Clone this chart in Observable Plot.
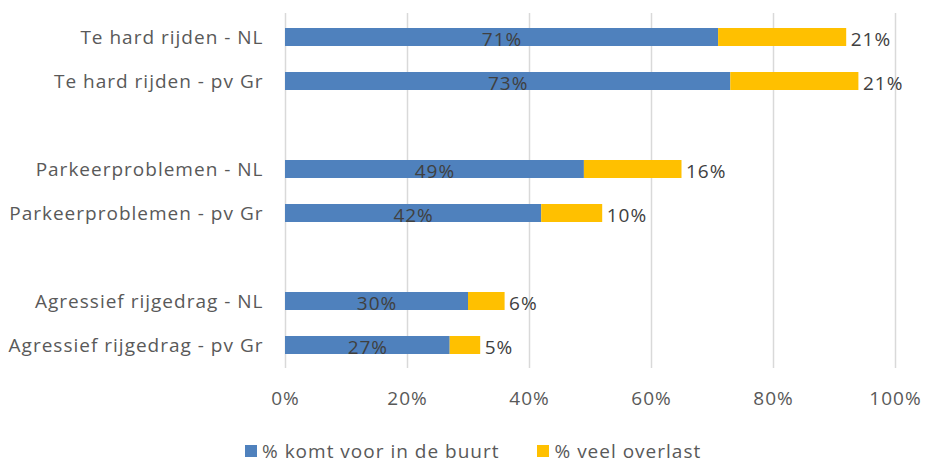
<!DOCTYPE html>
<html>
<head>
<meta charset="utf-8">
<script src="https://cdn.jsdelivr.net/npm/d3@7"></script>
<script src="https://cdn.jsdelivr.net/npm/@observablehq/plot@0.6"></script>
<style>
  html, body { margin: 0; padding: 0; background: #fff; }
  body { width: 925px; height: 463px; overflow: hidden; font-family: "Open Sans", sans-serif; }
  #chart svg { display: block; }
  #legend { display: flex; justify-content: flex-start; gap: 38px; margin-left: 245px; margin-top: 23px; font-size: 19px; line-height: 20px; letter-spacing: 1px; color: #595959; }
  .item { display: flex; align-items: center; gap: 5px; }
  .sw { width: 12px; height: 12px; display: inline-block; }
</style>
</head>
<body>
<div id="chart"></div>
<div id="legend"></div>
<script>
const categories = [
  "Te hard rijden - NL",
  "Te hard rijden - pv Gr",
  "Parkeerproblemen - NL",
  "Parkeerproblemen - pv Gr",
  "Agressief rijgedrag - NL",
  "Agressief rijgedrag - pv Gr"
];
const komtVoor = [71, 73, 49, 42, 30, 27];
const veelOverlast = [21, 21, 16, 10, 6, 5];
const seriesNames = ["% komt voor in de buurt", "% veel overlast"];
const seriesColors = ["#4f81bd", "#ffc000"];
const xTicks = [0, 20, 40, 60, 80, 100];

// y domain with blank spacer rows between the groups
const yDomain = [categories[0], categories[1], "", categories[2], categories[3], " ", categories[4], categories[5]];

const rows = categories.map((c, i) => ({cat: c, komt: komtVoor[i], overlast: veelOverlast[i]}));
const long = [];
rows.forEach(r => {
  long.push({cat: r.cat, series: seriesNames[0], value: r.komt});
  long.push({cat: r.cat, series: seriesNames[1], value: r.overlast});
});

const font = "'Open Sans', sans-serif";

const chart = Plot.plot({
  width: 925,
  height: 418,
  marginLeft: 285,
  marginRight: 30,
  marginTop: 13,
  marginBottom: 50,
  style: {fontFamily: font, background: "#fff", letterSpacing: "1px"},
  x: {domain: [0, 100]},
  y: {domain: yDomain, paddingInner: 0.6, paddingOuter: 0.3},
  color: {domain: seriesNames, range: seriesColors},
  marks: [
    Plot.gridX({ticks: xTicks, stroke: "#d9d9d9", strokeOpacity: 1, strokeWidth: 1.5}),
    Plot.barX(long, Plot.stackX({x: "value", y: "cat", fill: "series", order: seriesNames})),
    Plot.text(rows, {x: d => d.komt / 2, y: "cat", text: d => d.komt + "%", fontSize: 19, fill: "#404040", dy: 2}),
    Plot.text(rows, {x: d => d.komt + d.overlast, y: "cat", text: d => d.overlast + "%", fontSize: 19, fill: "#404040", textAnchor: "start", dx: 4, dy: 2}),
    Plot.axisX({ticks: xTicks, tickFormat: d => d + "%", tickSize: 0, tickPadding: 23, fontSize: 19, fill: "#595959", label: null}),
    Plot.axisY({tickSize: 0, tickPadding: 22, fontSize: 19, fill: "#595959", label: null, tickFormat: d => d.trim()})
  ]
});
document.getElementById("chart").appendChild(chart);

const legend = document.getElementById("legend");
seriesNames.forEach((s, i) => {
  const it = document.createElement("div");
  it.className = "item";
  it.innerHTML = `<span class="sw" style="background:${seriesColors[i]}"></span><span>${s}</span>`;
  legend.appendChild(it);
});
</script>
</body>
</html>
